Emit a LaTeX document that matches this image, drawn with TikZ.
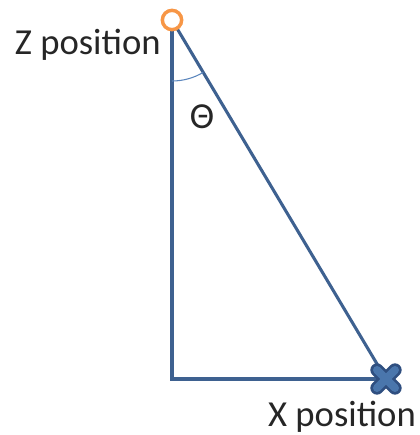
\documentclass[tikz,border=0pt]{standalone}
\usepackage{fontspec}
\setmainfont{Carlito}
\usetikzlibrary{positioning,calc}

\definecolor{edgeblue}{HTML}{3E6190}
\definecolor{arcblue}{HTML}{5B86BD}
\definecolor{markblue}{HTML}{4A76AC}
\definecolor{markdark}{HTML}{2F4F80}
\definecolor{markorange}{HTML}{F79646}

\begin{document}
\begin{tikzpicture}[
  x=0.75pt, y=-0.75pt,
  side/.style={
    draw=edgeblue, line width=2.3pt
  },
  label/.style={
    font=\fontsize{27.5}{31}\selectfont, inner sep=0pt, text=black!85
  },
  zmark/.style={
    circle, draw=markorange, line width=2.6pt, fill=white,
    minimum size=14.5pt, inner sep=0pt
  }
]
\useasboundingbox (0,0) rectangle (419,435);

% Corners of the triangle
\coordinate (ztop)   at (172,20);
\coordinate (corner) at (172,379);
\coordinate (xend)   at (386,379);

% Sides
\draw[side] (ztop) -- (corner) -- (xend);
\draw[side] (ztop) -- (xend);

% Angle between the vertical and the diagonal
\draw[arcblue, line width=0.8pt] ($(ztop)+(0,61)$) arc[start angle=90, end angle=59.2, radius=61];
\node[label] (theta) at (202,117) {Θ};

% Markers
\node[zmark] (zpoint) at (ztop) {};
\draw[markdark, line width=10pt, line cap=round] ($(xend)+(-9,-9)$) -- ($(xend)+(9,9)$);
\draw[markdark, line width=10pt, line cap=round] ($(xend)+(-9,9)$) -- ($(xend)+(9,-9)$);
\draw[markblue, line width=6pt, line cap=round] ($(xend)+(-9,-9)$) -- ($(xend)+(9,9)$);
\draw[markblue, line width=6pt, line cap=round] ($(xend)+(-9,9)$) -- ($(xend)+(9,-9)$);

% Labels
\node[label, anchor=east] (zlabel) at (161,45) {Z position};
\node[label] (xlabel) at (342,417) {X position};

\end{tikzpicture}
\end{document}
